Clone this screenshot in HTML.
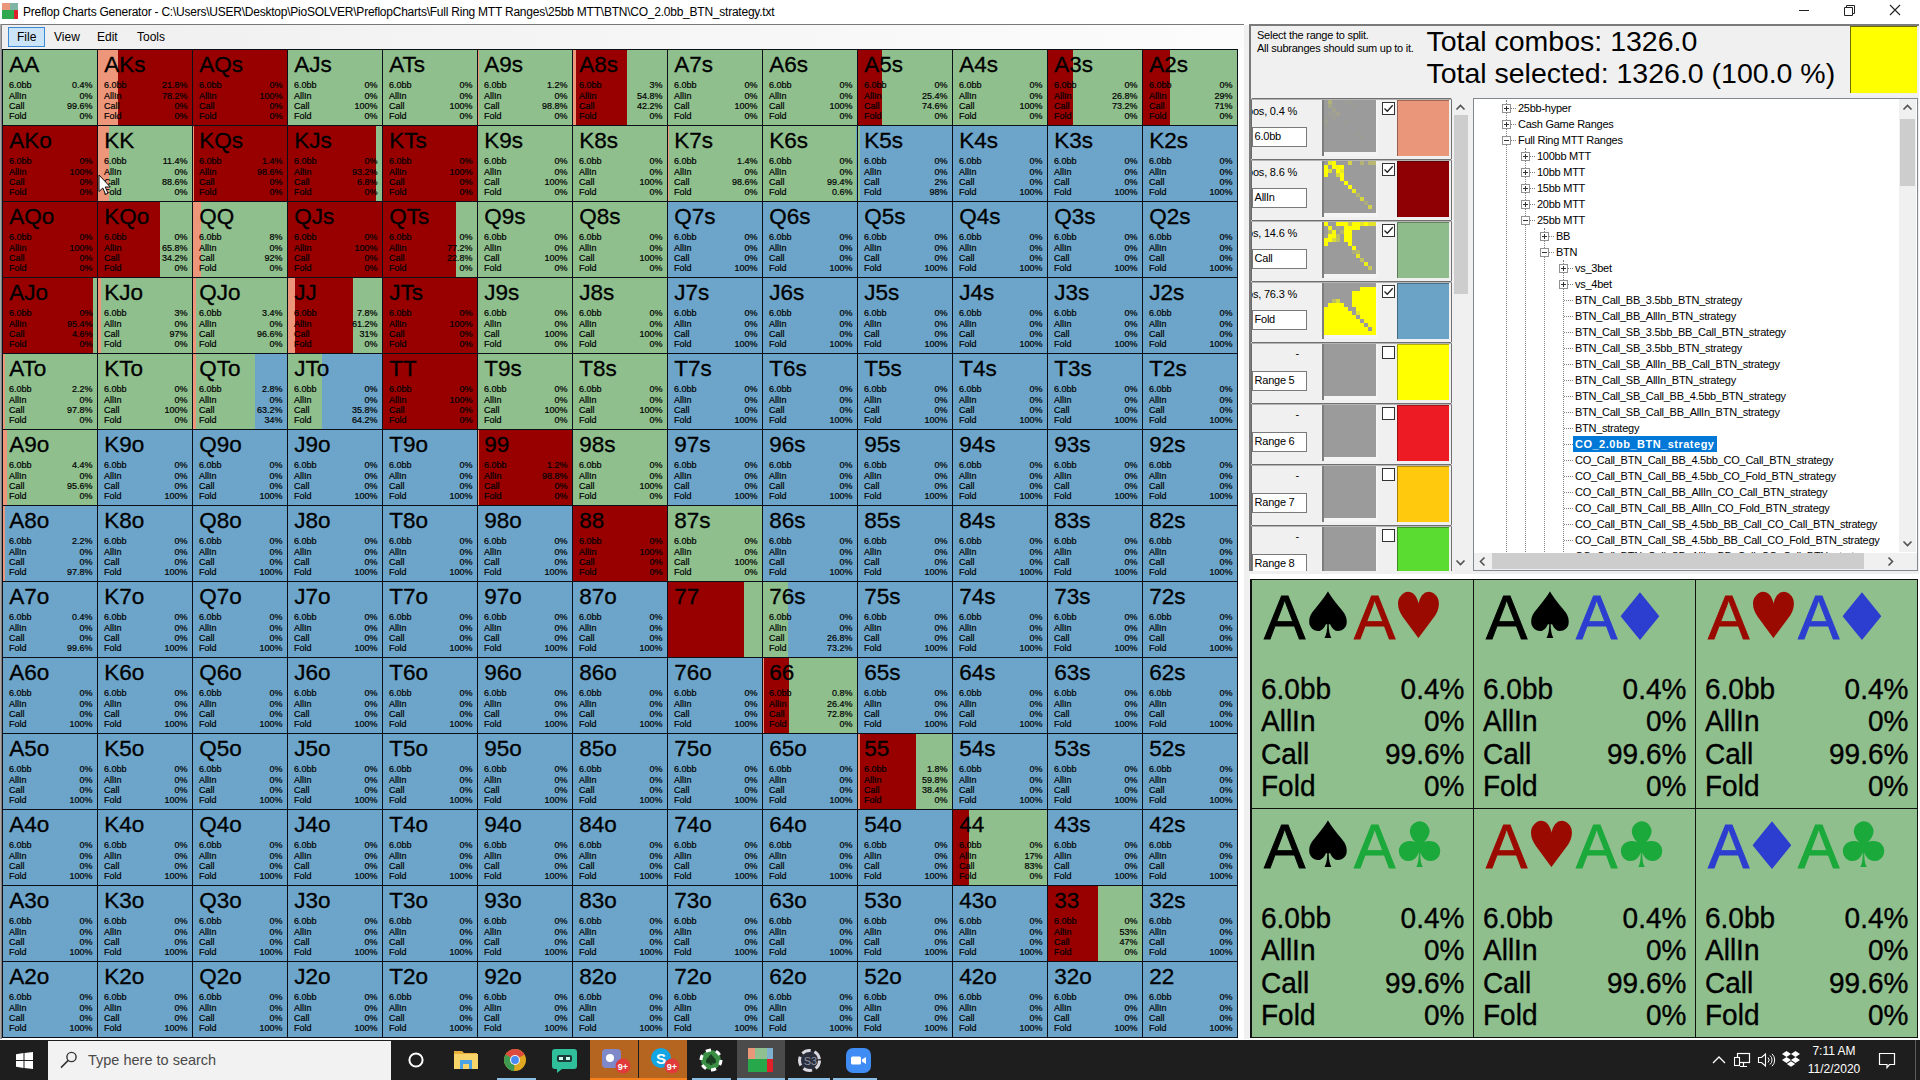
<!DOCTYPE html>
<html lang="en"><head><meta charset="utf-8"><title>Preflop Charts Generator</title>
<style>
html,body{margin:0;padding:0}
body{width:1920px;height:1080px;overflow:hidden;position:relative;background:#fff;font-family:"Liberation Sans",sans-serif;color:#000}
div,span,b,i,p{box-sizing:border-box}
.abs,.abs>*{position:absolute}
#title{position:absolute;left:0;top:0;width:1920px;height:24px;background:#fff}
#title .t{position:absolute;left:23px;top:5px;font-size:12px;line-height:15px;white-space:nowrap;color:#000;letter-spacing:-0.235px}
#menu{position:absolute;left:0;top:24px;width:1244px;height:25px;background:linear-gradient(90deg,#efefef,#fcfcfc);border-top:1px solid #787878}
#menu span{position:absolute;top:1px;height:23px;line-height:23px;font-size:12px}
#grid{position:absolute;left:2px;top:49px;width:1236px;height:989px;background:#0b0f18}
.c{position:absolute;width:94px;height:75px;overflow:hidden}
.c b{position:absolute;left:6.2px;top:3.1px;font-weight:normal;font-size:22.5px;line-height:24px;white-space:nowrap;-webkit-text-stroke:0.3px #000}
.c p{position:absolute;margin:0;top:30.4px;font-size:9px;line-height:10px;white-space:pre;color:#000;-webkit-text-stroke:0.2px #000}
.c u{display:block;height:11px;text-decoration:none}
.c .a{left:6px;text-align:left}
.c .v{right:4.5px;text-align:right}
</style></head><body>

<div id="title"><svg style="position:absolute;left:2px;top:3px" width="16" height="16" viewBox="0 0 16 16"><rect width="16" height="16" fill="#2fa84f"/><rect width="8" height="7" fill="#e9967a"/><rect x="8" width="8" height="7" fill="#7fb5a5"/><rect x="12" y="7" width="4" height="9" fill="#e0202a"/></svg>
<span class="t">Preflop Charts Generator - C:\Users\USER\Desktop\PioSOLVER\PreflopCharts\Full Ring MTT Ranges\25bb MTT\BTN\CO_2.0bb_BTN_strategy.txt</span>
</div>
<div id="menu"><span style="left:8px;width:37px;top:2px;height:20px;background:#cce4f7;border:1px solid #3a8ad6"></span><span style="left:17px">File</span><span style="left:54px">View</span><span style="left:97px">Edit</span><span style="left:137px">Tools</span></div>
<div id="grid">
<div class="c" style="left:1px;top:1px;background:linear-gradient(90deg,#ee967a 0% 0.4%,#8fbf8d 0.4% 100%)"><b>AA</b><p class="a"><u>6.0bb</u>AllIn
Call
Fold</p><p class="v"><u>0.4%</u>0%
99.6%
0%</p></div>
<div class="c" style="left:96px;top:1px;background:linear-gradient(90deg,#ee967a 0% 21.8%,#980000 21.8% 100%)"><b>AKs</b><p class="a"><u>6.0bb</u>AllIn
Call
Fold</p><p class="v"><u>21.8%</u>78.2%
0%
0%</p></div>
<div class="c" style="left:191px;top:1px;background:#980000"><b>AQs</b><p class="a"><u>6.0bb</u>AllIn
Call
Fold</p><p class="v"><u>0%</u>100%
0%
0%</p></div>
<div class="c" style="left:286px;top:1px;background:#8fbf8d"><b>AJs</b><p class="a"><u>6.0bb</u>AllIn
Call
Fold</p><p class="v"><u>0%</u>0%
100%
0%</p></div>
<div class="c" style="left:381px;top:1px;background:#8fbf8d"><b>ATs</b><p class="a"><u>6.0bb</u>AllIn
Call
Fold</p><p class="v"><u>0%</u>0%
100%
0%</p></div>
<div class="c" style="left:476px;top:1px;background:linear-gradient(90deg,#ee967a 0% 1.2%,#8fbf8d 1.2% 100%)"><b>A9s</b><p class="a"><u>6.0bb</u>AllIn
Call
Fold</p><p class="v"><u>1.2%</u>0%
98.8%
0%</p></div>
<div class="c" style="left:571px;top:1px;background:linear-gradient(90deg,#ee967a 0% 3%,#980000 3% 57.8%,#8fbf8d 57.8% 100%)"><b>A8s</b><p class="a"><u>6.0bb</u>AllIn
Call
Fold</p><p class="v"><u>3%</u>54.8%
42.2%
0%</p></div>
<div class="c" style="left:666px;top:1px;background:#8fbf8d"><b>A7s</b><p class="a"><u>6.0bb</u>AllIn
Call
Fold</p><p class="v"><u>0%</u>0%
100%
0%</p></div>
<div class="c" style="left:761px;top:1px;background:#8fbf8d"><b>A6s</b><p class="a"><u>6.0bb</u>AllIn
Call
Fold</p><p class="v"><u>0%</u>0%
100%
0%</p></div>
<div class="c" style="left:856px;top:1px;background:linear-gradient(90deg,#980000 0% 25.4%,#8fbf8d 25.4% 100%)"><b>A5s</b><p class="a"><u>6.0bb</u>AllIn
Call
Fold</p><p class="v"><u>0%</u>25.4%
74.6%
0%</p></div>
<div class="c" style="left:951px;top:1px;background:#8fbf8d"><b>A4s</b><p class="a"><u>6.0bb</u>AllIn
Call
Fold</p><p class="v"><u>0%</u>0%
100%
0%</p></div>
<div class="c" style="left:1046px;top:1px;background:linear-gradient(90deg,#980000 0% 26.8%,#8fbf8d 26.8% 100%)"><b>A3s</b><p class="a"><u>6.0bb</u>AllIn
Call
Fold</p><p class="v"><u>0%</u>26.8%
73.2%
0%</p></div>
<div class="c" style="left:1141px;top:1px;background:linear-gradient(90deg,#980000 0% 29%,#8fbf8d 29% 100%)"><b>A2s</b><p class="a"><u>6.0bb</u>AllIn
Call
Fold</p><p class="v"><u>0%</u>29%
71%
0%</p></div>
<div class="c" style="left:1px;top:77px;background:#980000"><b>AKo</b><p class="a"><u>6.0bb</u>AllIn
Call
Fold</p><p class="v"><u>0%</u>100%
0%
0%</p></div>
<div class="c" style="left:96px;top:77px;background:linear-gradient(90deg,#ee967a 0% 11.4%,#8fbf8d 11.4% 100%)"><b>KK</b><p class="a"><u>6.0bb</u>AllIn
Call
Fold</p><p class="v"><u>11.4%</u>0%
88.6%
0%</p></div>
<div class="c" style="left:191px;top:77px;background:linear-gradient(90deg,#ee967a 0% 1.4%,#980000 1.4% 100%)"><b>KQs</b><p class="a"><u>6.0bb</u>AllIn
Call
Fold</p><p class="v"><u>1.4%</u>98.6%
0%
0%</p></div>
<div class="c" style="left:286px;top:77px;background:linear-gradient(90deg,#980000 0% 93.2%,#8fbf8d 93.2% 100%)"><b>KJs</b><p class="a"><u>6.0bb</u>AllIn
Call
Fold</p><p class="v"><u>0%</u>93.2%
6.8%
0%</p></div>
<div class="c" style="left:381px;top:77px;background:#980000"><b>KTs</b><p class="a"><u>6.0bb</u>AllIn
Call
Fold</p><p class="v"><u>0%</u>100%
0%
0%</p></div>
<div class="c" style="left:476px;top:77px;background:#8fbf8d"><b>K9s</b><p class="a"><u>6.0bb</u>AllIn
Call
Fold</p><p class="v"><u>0%</u>0%
100%
0%</p></div>
<div class="c" style="left:571px;top:77px;background:#8fbf8d"><b>K8s</b><p class="a"><u>6.0bb</u>AllIn
Call
Fold</p><p class="v"><u>0%</u>0%
100%
0%</p></div>
<div class="c" style="left:666px;top:77px;background:linear-gradient(90deg,#ee967a 0% 1.4%,#8fbf8d 1.4% 100%)"><b>K7s</b><p class="a"><u>6.0bb</u>AllIn
Call
Fold</p><p class="v"><u>1.4%</u>0%
98.6%
0%</p></div>
<div class="c" style="left:761px;top:77px;background:linear-gradient(90deg,#8fbf8d 0% 99.4%,#6ca5c9 99.4% 100%)"><b>K6s</b><p class="a"><u>6.0bb</u>AllIn
Call
Fold</p><p class="v"><u>0%</u>0%
99.4%
0.6%</p></div>
<div class="c" style="left:856px;top:77px;background:linear-gradient(90deg,#8fbf8d 0% 2%,#6ca5c9 2% 100%)"><b>K5s</b><p class="a"><u>6.0bb</u>AllIn
Call
Fold</p><p class="v"><u>0%</u>0%
2%
98%</p></div>
<div class="c" style="left:951px;top:77px;background:#6ca5c9"><b>K4s</b><p class="a"><u>6.0bb</u>AllIn
Call
Fold</p><p class="v"><u>0%</u>0%
0%
100%</p></div>
<div class="c" style="left:1046px;top:77px;background:#6ca5c9"><b>K3s</b><p class="a"><u>6.0bb</u>AllIn
Call
Fold</p><p class="v"><u>0%</u>0%
0%
100%</p></div>
<div class="c" style="left:1141px;top:77px;background:#6ca5c9"><b>K2s</b><p class="a"><u>6.0bb</u>AllIn
Call
Fold</p><p class="v"><u>0%</u>0%
0%
100%</p></div>
<div class="c" style="left:1px;top:153px;background:#980000"><b>AQo</b><p class="a"><u>6.0bb</u>AllIn
Call
Fold</p><p class="v"><u>0%</u>100%
0%
0%</p></div>
<div class="c" style="left:96px;top:153px;background:linear-gradient(90deg,#980000 0% 65.8%,#8fbf8d 65.8% 100%)"><b>KQo</b><p class="a"><u>6.0bb</u>AllIn
Call
Fold</p><p class="v"><u>0%</u>65.8%
34.2%
0%</p></div>
<div class="c" style="left:191px;top:153px;background:linear-gradient(90deg,#ee967a 0% 8%,#8fbf8d 8% 100%)"><b>QQ</b><p class="a"><u>6.0bb</u>AllIn
Call
Fold</p><p class="v"><u>8%</u>0%
92%
0%</p></div>
<div class="c" style="left:286px;top:153px;background:#980000"><b>QJs</b><p class="a"><u>6.0bb</u>AllIn
Call
Fold</p><p class="v"><u>0%</u>100%
0%
0%</p></div>
<div class="c" style="left:381px;top:153px;background:linear-gradient(90deg,#980000 0% 77.2%,#8fbf8d 77.2% 100%)"><b>QTs</b><p class="a"><u>6.0bb</u>AllIn
Call
Fold</p><p class="v"><u>0%</u>77.2%
22.8%
0%</p></div>
<div class="c" style="left:476px;top:153px;background:#8fbf8d"><b>Q9s</b><p class="a"><u>6.0bb</u>AllIn
Call
Fold</p><p class="v"><u>0%</u>0%
100%
0%</p></div>
<div class="c" style="left:571px;top:153px;background:#8fbf8d"><b>Q8s</b><p class="a"><u>6.0bb</u>AllIn
Call
Fold</p><p class="v"><u>0%</u>0%
100%
0%</p></div>
<div class="c" style="left:666px;top:153px;background:#6ca5c9"><b>Q7s</b><p class="a"><u>6.0bb</u>AllIn
Call
Fold</p><p class="v"><u>0%</u>0%
0%
100%</p></div>
<div class="c" style="left:761px;top:153px;background:#6ca5c9"><b>Q6s</b><p class="a"><u>6.0bb</u>AllIn
Call
Fold</p><p class="v"><u>0%</u>0%
0%
100%</p></div>
<div class="c" style="left:856px;top:153px;background:#6ca5c9"><b>Q5s</b><p class="a"><u>6.0bb</u>AllIn
Call
Fold</p><p class="v"><u>0%</u>0%
0%
100%</p></div>
<div class="c" style="left:951px;top:153px;background:#6ca5c9"><b>Q4s</b><p class="a"><u>6.0bb</u>AllIn
Call
Fold</p><p class="v"><u>0%</u>0%
0%
100%</p></div>
<div class="c" style="left:1046px;top:153px;background:#6ca5c9"><b>Q3s</b><p class="a"><u>6.0bb</u>AllIn
Call
Fold</p><p class="v"><u>0%</u>0%
0%
100%</p></div>
<div class="c" style="left:1141px;top:153px;background:#6ca5c9"><b>Q2s</b><p class="a"><u>6.0bb</u>AllIn
Call
Fold</p><p class="v"><u>0%</u>0%
0%
100%</p></div>
<div class="c" style="left:1px;top:229px;background:linear-gradient(90deg,#980000 0% 95.4%,#8fbf8d 95.4% 100%)"><b>AJo</b><p class="a"><u>6.0bb</u>AllIn
Call
Fold</p><p class="v"><u>0%</u>95.4%
4.6%
0%</p></div>
<div class="c" style="left:96px;top:229px;background:linear-gradient(90deg,#ee967a 0% 3%,#8fbf8d 3% 100%)"><b>KJo</b><p class="a"><u>6.0bb</u>AllIn
Call
Fold</p><p class="v"><u>3%</u>0%
97%
0%</p></div>
<div class="c" style="left:191px;top:229px;background:linear-gradient(90deg,#ee967a 0% 3.4%,#8fbf8d 3.4% 100%)"><b>QJo</b><p class="a"><u>6.0bb</u>AllIn
Call
Fold</p><p class="v"><u>3.4%</u>0%
96.6%
0%</p></div>
<div class="c" style="left:286px;top:229px;background:linear-gradient(90deg,#ee967a 0% 7.8%,#980000 7.8% 69%,#8fbf8d 69% 100%)"><b>JJ</b><p class="a"><u>6.0bb</u>AllIn
Call
Fold</p><p class="v"><u>7.8%</u>61.2%
31%
0%</p></div>
<div class="c" style="left:381px;top:229px;background:#980000"><b>JTs</b><p class="a"><u>6.0bb</u>AllIn
Call
Fold</p><p class="v"><u>0%</u>100%
0%
0%</p></div>
<div class="c" style="left:476px;top:229px;background:#8fbf8d"><b>J9s</b><p class="a"><u>6.0bb</u>AllIn
Call
Fold</p><p class="v"><u>0%</u>0%
100%
0%</p></div>
<div class="c" style="left:571px;top:229px;background:#8fbf8d"><b>J8s</b><p class="a"><u>6.0bb</u>AllIn
Call
Fold</p><p class="v"><u>0%</u>0%
100%
0%</p></div>
<div class="c" style="left:666px;top:229px;background:#6ca5c9"><b>J7s</b><p class="a"><u>6.0bb</u>AllIn
Call
Fold</p><p class="v"><u>0%</u>0%
0%
100%</p></div>
<div class="c" style="left:761px;top:229px;background:#6ca5c9"><b>J6s</b><p class="a"><u>6.0bb</u>AllIn
Call
Fold</p><p class="v"><u>0%</u>0%
0%
100%</p></div>
<div class="c" style="left:856px;top:229px;background:#6ca5c9"><b>J5s</b><p class="a"><u>6.0bb</u>AllIn
Call
Fold</p><p class="v"><u>0%</u>0%
0%
100%</p></div>
<div class="c" style="left:951px;top:229px;background:#6ca5c9"><b>J4s</b><p class="a"><u>6.0bb</u>AllIn
Call
Fold</p><p class="v"><u>0%</u>0%
0%
100%</p></div>
<div class="c" style="left:1046px;top:229px;background:#6ca5c9"><b>J3s</b><p class="a"><u>6.0bb</u>AllIn
Call
Fold</p><p class="v"><u>0%</u>0%
0%
100%</p></div>
<div class="c" style="left:1141px;top:229px;background:#6ca5c9"><b>J2s</b><p class="a"><u>6.0bb</u>AllIn
Call
Fold</p><p class="v"><u>0%</u>0%
0%
100%</p></div>
<div class="c" style="left:1px;top:305px;background:linear-gradient(90deg,#ee967a 0% 2.2%,#8fbf8d 2.2% 100%)"><b>ATo</b><p class="a"><u>6.0bb</u>AllIn
Call
Fold</p><p class="v"><u>2.2%</u>0%
97.8%
0%</p></div>
<div class="c" style="left:96px;top:305px;background:#8fbf8d"><b>KTo</b><p class="a"><u>6.0bb</u>AllIn
Call
Fold</p><p class="v"><u>0%</u>0%
100%
0%</p></div>
<div class="c" style="left:191px;top:305px;background:linear-gradient(90deg,#ee967a 0% 2.8%,#8fbf8d 2.8% 66%,#6ca5c9 66% 100%)"><b>QTo</b><p class="a"><u>6.0bb</u>AllIn
Call
Fold</p><p class="v"><u>2.8%</u>0%
63.2%
34%</p></div>
<div class="c" style="left:286px;top:305px;background:linear-gradient(90deg,#8fbf8d 0% 35.8%,#6ca5c9 35.8% 100%)"><b>JTo</b><p class="a"><u>6.0bb</u>AllIn
Call
Fold</p><p class="v"><u>0%</u>0%
35.8%
64.2%</p></div>
<div class="c" style="left:381px;top:305px;background:#980000"><b>TT</b><p class="a"><u>6.0bb</u>AllIn
Call
Fold</p><p class="v"><u>0%</u>100%
0%
0%</p></div>
<div class="c" style="left:476px;top:305px;background:#8fbf8d"><b>T9s</b><p class="a"><u>6.0bb</u>AllIn
Call
Fold</p><p class="v"><u>0%</u>0%
100%
0%</p></div>
<div class="c" style="left:571px;top:305px;background:#8fbf8d"><b>T8s</b><p class="a"><u>6.0bb</u>AllIn
Call
Fold</p><p class="v"><u>0%</u>0%
100%
0%</p></div>
<div class="c" style="left:666px;top:305px;background:#6ca5c9"><b>T7s</b><p class="a"><u>6.0bb</u>AllIn
Call
Fold</p><p class="v"><u>0%</u>0%
0%
100%</p></div>
<div class="c" style="left:761px;top:305px;background:#6ca5c9"><b>T6s</b><p class="a"><u>6.0bb</u>AllIn
Call
Fold</p><p class="v"><u>0%</u>0%
0%
100%</p></div>
<div class="c" style="left:856px;top:305px;background:#6ca5c9"><b>T5s</b><p class="a"><u>6.0bb</u>AllIn
Call
Fold</p><p class="v"><u>0%</u>0%
0%
100%</p></div>
<div class="c" style="left:951px;top:305px;background:#6ca5c9"><b>T4s</b><p class="a"><u>6.0bb</u>AllIn
Call
Fold</p><p class="v"><u>0%</u>0%
0%
100%</p></div>
<div class="c" style="left:1046px;top:305px;background:#6ca5c9"><b>T3s</b><p class="a"><u>6.0bb</u>AllIn
Call
Fold</p><p class="v"><u>0%</u>0%
0%
100%</p></div>
<div class="c" style="left:1141px;top:305px;background:#6ca5c9"><b>T2s</b><p class="a"><u>6.0bb</u>AllIn
Call
Fold</p><p class="v"><u>0%</u>0%
0%
100%</p></div>
<div class="c" style="left:1px;top:381px;background:linear-gradient(90deg,#ee967a 0% 4.4%,#8fbf8d 4.4% 100%)"><b>A9o</b><p class="a"><u>6.0bb</u>AllIn
Call
Fold</p><p class="v"><u>4.4%</u>0%
95.6%
0%</p></div>
<div class="c" style="left:96px;top:381px;background:#6ca5c9"><b>K9o</b><p class="a"><u>6.0bb</u>AllIn
Call
Fold</p><p class="v"><u>0%</u>0%
0%
100%</p></div>
<div class="c" style="left:191px;top:381px;background:#6ca5c9"><b>Q9o</b><p class="a"><u>6.0bb</u>AllIn
Call
Fold</p><p class="v"><u>0%</u>0%
0%
100%</p></div>
<div class="c" style="left:286px;top:381px;background:#6ca5c9"><b>J9o</b><p class="a"><u>6.0bb</u>AllIn
Call
Fold</p><p class="v"><u>0%</u>0%
0%
100%</p></div>
<div class="c" style="left:381px;top:381px;background:#6ca5c9"><b>T9o</b><p class="a"><u>6.0bb</u>AllIn
Call
Fold</p><p class="v"><u>0%</u>0%
0%
100%</p></div>
<div class="c" style="left:476px;top:381px;background:linear-gradient(90deg,#ee967a 0% 1.2%,#980000 1.2% 100%)"><b>99</b><p class="a"><u>6.0bb</u>AllIn
Call
Fold</p><p class="v"><u>1.2%</u>98.8%
0%
0%</p></div>
<div class="c" style="left:571px;top:381px;background:#8fbf8d"><b>98s</b><p class="a"><u>6.0bb</u>AllIn
Call
Fold</p><p class="v"><u>0%</u>0%
100%
0%</p></div>
<div class="c" style="left:666px;top:381px;background:#6ca5c9"><b>97s</b><p class="a"><u>6.0bb</u>AllIn
Call
Fold</p><p class="v"><u>0%</u>0%
0%
100%</p></div>
<div class="c" style="left:761px;top:381px;background:#6ca5c9"><b>96s</b><p class="a"><u>6.0bb</u>AllIn
Call
Fold</p><p class="v"><u>0%</u>0%
0%
100%</p></div>
<div class="c" style="left:856px;top:381px;background:#6ca5c9"><b>95s</b><p class="a"><u>6.0bb</u>AllIn
Call
Fold</p><p class="v"><u>0%</u>0%
0%
100%</p></div>
<div class="c" style="left:951px;top:381px;background:#6ca5c9"><b>94s</b><p class="a"><u>6.0bb</u>AllIn
Call
Fold</p><p class="v"><u>0%</u>0%
0%
100%</p></div>
<div class="c" style="left:1046px;top:381px;background:#6ca5c9"><b>93s</b><p class="a"><u>6.0bb</u>AllIn
Call
Fold</p><p class="v"><u>0%</u>0%
0%
100%</p></div>
<div class="c" style="left:1141px;top:381px;background:#6ca5c9"><b>92s</b><p class="a"><u>6.0bb</u>AllIn
Call
Fold</p><p class="v"><u>0%</u>0%
0%
100%</p></div>
<div class="c" style="left:1px;top:457px;background:linear-gradient(90deg,#ee967a 0% 2.2%,#6ca5c9 2.2% 100%)"><b>A8o</b><p class="a"><u>6.0bb</u>AllIn
Call
Fold</p><p class="v"><u>2.2%</u>0%
0%
97.8%</p></div>
<div class="c" style="left:96px;top:457px;background:#6ca5c9"><b>K8o</b><p class="a"><u>6.0bb</u>AllIn
Call
Fold</p><p class="v"><u>0%</u>0%
0%
100%</p></div>
<div class="c" style="left:191px;top:457px;background:#6ca5c9"><b>Q8o</b><p class="a"><u>6.0bb</u>AllIn
Call
Fold</p><p class="v"><u>0%</u>0%
0%
100%</p></div>
<div class="c" style="left:286px;top:457px;background:#6ca5c9"><b>J8o</b><p class="a"><u>6.0bb</u>AllIn
Call
Fold</p><p class="v"><u>0%</u>0%
0%
100%</p></div>
<div class="c" style="left:381px;top:457px;background:#6ca5c9"><b>T8o</b><p class="a"><u>6.0bb</u>AllIn
Call
Fold</p><p class="v"><u>0%</u>0%
0%
100%</p></div>
<div class="c" style="left:476px;top:457px;background:#6ca5c9"><b>98o</b><p class="a"><u>6.0bb</u>AllIn
Call
Fold</p><p class="v"><u>0%</u>0%
0%
100%</p></div>
<div class="c" style="left:571px;top:457px;background:#980000"><b>88</b><p class="a"><u>6.0bb</u>AllIn
Call
Fold</p><p class="v"><u>0%</u>100%
0%
0%</p></div>
<div class="c" style="left:666px;top:457px;background:#8fbf8d"><b>87s</b><p class="a"><u>6.0bb</u>AllIn
Call
Fold</p><p class="v"><u>0%</u>0%
100%
0%</p></div>
<div class="c" style="left:761px;top:457px;background:#6ca5c9"><b>86s</b><p class="a"><u>6.0bb</u>AllIn
Call
Fold</p><p class="v"><u>0%</u>0%
0%
100%</p></div>
<div class="c" style="left:856px;top:457px;background:#6ca5c9"><b>85s</b><p class="a"><u>6.0bb</u>AllIn
Call
Fold</p><p class="v"><u>0%</u>0%
0%
100%</p></div>
<div class="c" style="left:951px;top:457px;background:#6ca5c9"><b>84s</b><p class="a"><u>6.0bb</u>AllIn
Call
Fold</p><p class="v"><u>0%</u>0%
0%
100%</p></div>
<div class="c" style="left:1046px;top:457px;background:#6ca5c9"><b>83s</b><p class="a"><u>6.0bb</u>AllIn
Call
Fold</p><p class="v"><u>0%</u>0%
0%
100%</p></div>
<div class="c" style="left:1141px;top:457px;background:#6ca5c9"><b>82s</b><p class="a"><u>6.0bb</u>AllIn
Call
Fold</p><p class="v"><u>0%</u>0%
0%
100%</p></div>
<div class="c" style="left:1px;top:533px;background:linear-gradient(90deg,#ee967a 0% 0.4%,#6ca5c9 0.4% 100%)"><b>A7o</b><p class="a"><u>6.0bb</u>AllIn
Call
Fold</p><p class="v"><u>0.4%</u>0%
0%
99.6%</p></div>
<div class="c" style="left:96px;top:533px;background:#6ca5c9"><b>K7o</b><p class="a"><u>6.0bb</u>AllIn
Call
Fold</p><p class="v"><u>0%</u>0%
0%
100%</p></div>
<div class="c" style="left:191px;top:533px;background:#6ca5c9"><b>Q7o</b><p class="a"><u>6.0bb</u>AllIn
Call
Fold</p><p class="v"><u>0%</u>0%
0%
100%</p></div>
<div class="c" style="left:286px;top:533px;background:#6ca5c9"><b>J7o</b><p class="a"><u>6.0bb</u>AllIn
Call
Fold</p><p class="v"><u>0%</u>0%
0%
100%</p></div>
<div class="c" style="left:381px;top:533px;background:#6ca5c9"><b>T7o</b><p class="a"><u>6.0bb</u>AllIn
Call
Fold</p><p class="v"><u>0%</u>0%
0%
100%</p></div>
<div class="c" style="left:476px;top:533px;background:#6ca5c9"><b>97o</b><p class="a"><u>6.0bb</u>AllIn
Call
Fold</p><p class="v"><u>0%</u>0%
0%
100%</p></div>
<div class="c" style="left:571px;top:533px;background:#6ca5c9"><b>87o</b><p class="a"><u>6.0bb</u>AllIn
Call
Fold</p><p class="v"><u>0%</u>0%
0%
100%</p></div>
<div class="c" style="left:666px;top:533px;background:linear-gradient(90deg,#980000 0% 81%,#8fbf8d 81% 100%)"><b>77</b></div>
<div class="c" style="left:761px;top:533px;background:linear-gradient(90deg,#8fbf8d 0% 26.8%,#6ca5c9 26.8% 100%)"><b>76s</b><p class="a"><u>6.0bb</u>AllIn
Call
Fold</p><p class="v"><u>0%</u>0%
26.8%
73.2%</p></div>
<div class="c" style="left:856px;top:533px;background:#6ca5c9"><b>75s</b><p class="a"><u>6.0bb</u>AllIn
Call
Fold</p><p class="v"><u>0%</u>0%
0%
100%</p></div>
<div class="c" style="left:951px;top:533px;background:#6ca5c9"><b>74s</b><p class="a"><u>6.0bb</u>AllIn
Call
Fold</p><p class="v"><u>0%</u>0%
0%
100%</p></div>
<div class="c" style="left:1046px;top:533px;background:#6ca5c9"><b>73s</b><p class="a"><u>6.0bb</u>AllIn
Call
Fold</p><p class="v"><u>0%</u>0%
0%
100%</p></div>
<div class="c" style="left:1141px;top:533px;background:#6ca5c9"><b>72s</b><p class="a"><u>6.0bb</u>AllIn
Call
Fold</p><p class="v"><u>0%</u>0%
0%
100%</p></div>
<div class="c" style="left:1px;top:609px;background:#6ca5c9"><b>A6o</b><p class="a"><u>6.0bb</u>AllIn
Call
Fold</p><p class="v"><u>0%</u>0%
0%
100%</p></div>
<div class="c" style="left:96px;top:609px;background:#6ca5c9"><b>K6o</b><p class="a"><u>6.0bb</u>AllIn
Call
Fold</p><p class="v"><u>0%</u>0%
0%
100%</p></div>
<div class="c" style="left:191px;top:609px;background:#6ca5c9"><b>Q6o</b><p class="a"><u>6.0bb</u>AllIn
Call
Fold</p><p class="v"><u>0%</u>0%
0%
100%</p></div>
<div class="c" style="left:286px;top:609px;background:#6ca5c9"><b>J6o</b><p class="a"><u>6.0bb</u>AllIn
Call
Fold</p><p class="v"><u>0%</u>0%
0%
100%</p></div>
<div class="c" style="left:381px;top:609px;background:#6ca5c9"><b>T6o</b><p class="a"><u>6.0bb</u>AllIn
Call
Fold</p><p class="v"><u>0%</u>0%
0%
100%</p></div>
<div class="c" style="left:476px;top:609px;background:#6ca5c9"><b>96o</b><p class="a"><u>6.0bb</u>AllIn
Call
Fold</p><p class="v"><u>0%</u>0%
0%
100%</p></div>
<div class="c" style="left:571px;top:609px;background:#6ca5c9"><b>86o</b><p class="a"><u>6.0bb</u>AllIn
Call
Fold</p><p class="v"><u>0%</u>0%
0%
100%</p></div>
<div class="c" style="left:666px;top:609px;background:#6ca5c9"><b>76o</b><p class="a"><u>6.0bb</u>AllIn
Call
Fold</p><p class="v"><u>0%</u>0%
0%
100%</p></div>
<div class="c" style="left:761px;top:609px;background:linear-gradient(90deg,#ee967a 0% 0.8%,#980000 0.8% 27.2%,#8fbf8d 27.2% 100%)"><b>66</b><p class="a"><u>6.0bb</u>AllIn
Call
Fold</p><p class="v"><u>0.8%</u>26.4%
72.8%
0%</p></div>
<div class="c" style="left:856px;top:609px;background:#6ca5c9"><b>65s</b><p class="a"><u>6.0bb</u>AllIn
Call
Fold</p><p class="v"><u>0%</u>0%
0%
100%</p></div>
<div class="c" style="left:951px;top:609px;background:#6ca5c9"><b>64s</b><p class="a"><u>6.0bb</u>AllIn
Call
Fold</p><p class="v"><u>0%</u>0%
0%
100%</p></div>
<div class="c" style="left:1046px;top:609px;background:#6ca5c9"><b>63s</b><p class="a"><u>6.0bb</u>AllIn
Call
Fold</p><p class="v"><u>0%</u>0%
0%
100%</p></div>
<div class="c" style="left:1141px;top:609px;background:#6ca5c9"><b>62s</b><p class="a"><u>6.0bb</u>AllIn
Call
Fold</p><p class="v"><u>0%</u>0%
0%
100%</p></div>
<div class="c" style="left:1px;top:685px;background:#6ca5c9"><b>A5o</b><p class="a"><u>6.0bb</u>AllIn
Call
Fold</p><p class="v"><u>0%</u>0%
0%
100%</p></div>
<div class="c" style="left:96px;top:685px;background:#6ca5c9"><b>K5o</b><p class="a"><u>6.0bb</u>AllIn
Call
Fold</p><p class="v"><u>0%</u>0%
0%
100%</p></div>
<div class="c" style="left:191px;top:685px;background:#6ca5c9"><b>Q5o</b><p class="a"><u>6.0bb</u>AllIn
Call
Fold</p><p class="v"><u>0%</u>0%
0%
100%</p></div>
<div class="c" style="left:286px;top:685px;background:#6ca5c9"><b>J5o</b><p class="a"><u>6.0bb</u>AllIn
Call
Fold</p><p class="v"><u>0%</u>0%
0%
100%</p></div>
<div class="c" style="left:381px;top:685px;background:#6ca5c9"><b>T5o</b><p class="a"><u>6.0bb</u>AllIn
Call
Fold</p><p class="v"><u>0%</u>0%
0%
100%</p></div>
<div class="c" style="left:476px;top:685px;background:#6ca5c9"><b>95o</b><p class="a"><u>6.0bb</u>AllIn
Call
Fold</p><p class="v"><u>0%</u>0%
0%
100%</p></div>
<div class="c" style="left:571px;top:685px;background:#6ca5c9"><b>85o</b><p class="a"><u>6.0bb</u>AllIn
Call
Fold</p><p class="v"><u>0%</u>0%
0%
100%</p></div>
<div class="c" style="left:666px;top:685px;background:#6ca5c9"><b>75o</b><p class="a"><u>6.0bb</u>AllIn
Call
Fold</p><p class="v"><u>0%</u>0%
0%
100%</p></div>
<div class="c" style="left:761px;top:685px;background:#6ca5c9"><b>65o</b><p class="a"><u>6.0bb</u>AllIn
Call
Fold</p><p class="v"><u>0%</u>0%
0%
100%</p></div>
<div class="c" style="left:856px;top:685px;background:linear-gradient(90deg,#ee967a 0% 1.8%,#980000 1.8% 61.6%,#8fbf8d 61.6% 100%)"><b>55</b><p class="a"><u>6.0bb</u>AllIn
Call
Fold</p><p class="v"><u>1.8%</u>59.8%
38.4%
0%</p></div>
<div class="c" style="left:951px;top:685px;background:#6ca5c9"><b>54s</b><p class="a"><u>6.0bb</u>AllIn
Call
Fold</p><p class="v"><u>0%</u>0%
0%
100%</p></div>
<div class="c" style="left:1046px;top:685px;background:#6ca5c9"><b>53s</b><p class="a"><u>6.0bb</u>AllIn
Call
Fold</p><p class="v"><u>0%</u>0%
0%
100%</p></div>
<div class="c" style="left:1141px;top:685px;background:#6ca5c9"><b>52s</b><p class="a"><u>6.0bb</u>AllIn
Call
Fold</p><p class="v"><u>0%</u>0%
0%
100%</p></div>
<div class="c" style="left:1px;top:761px;background:#6ca5c9"><b>A4o</b><p class="a"><u>6.0bb</u>AllIn
Call
Fold</p><p class="v"><u>0%</u>0%
0%
100%</p></div>
<div class="c" style="left:96px;top:761px;background:#6ca5c9"><b>K4o</b><p class="a"><u>6.0bb</u>AllIn
Call
Fold</p><p class="v"><u>0%</u>0%
0%
100%</p></div>
<div class="c" style="left:191px;top:761px;background:#6ca5c9"><b>Q4o</b><p class="a"><u>6.0bb</u>AllIn
Call
Fold</p><p class="v"><u>0%</u>0%
0%
100%</p></div>
<div class="c" style="left:286px;top:761px;background:#6ca5c9"><b>J4o</b><p class="a"><u>6.0bb</u>AllIn
Call
Fold</p><p class="v"><u>0%</u>0%
0%
100%</p></div>
<div class="c" style="left:381px;top:761px;background:#6ca5c9"><b>T4o</b><p class="a"><u>6.0bb</u>AllIn
Call
Fold</p><p class="v"><u>0%</u>0%
0%
100%</p></div>
<div class="c" style="left:476px;top:761px;background:#6ca5c9"><b>94o</b><p class="a"><u>6.0bb</u>AllIn
Call
Fold</p><p class="v"><u>0%</u>0%
0%
100%</p></div>
<div class="c" style="left:571px;top:761px;background:#6ca5c9"><b>84o</b><p class="a"><u>6.0bb</u>AllIn
Call
Fold</p><p class="v"><u>0%</u>0%
0%
100%</p></div>
<div class="c" style="left:666px;top:761px;background:#6ca5c9"><b>74o</b><p class="a"><u>6.0bb</u>AllIn
Call
Fold</p><p class="v"><u>0%</u>0%
0%
100%</p></div>
<div class="c" style="left:761px;top:761px;background:#6ca5c9"><b>64o</b><p class="a"><u>6.0bb</u>AllIn
Call
Fold</p><p class="v"><u>0%</u>0%
0%
100%</p></div>
<div class="c" style="left:856px;top:761px;background:#6ca5c9"><b>54o</b><p class="a"><u>6.0bb</u>AllIn
Call
Fold</p><p class="v"><u>0%</u>0%
0%
100%</p></div>
<div class="c" style="left:951px;top:761px;background:linear-gradient(90deg,#980000 0% 17%,#8fbf8d 17% 100%)"><b>44</b><p class="a"><u>6.0bb</u>AllIn
Call
Fold</p><p class="v"><u>0%</u>17%
83%
0%</p></div>
<div class="c" style="left:1046px;top:761px;background:#6ca5c9"><b>43s</b><p class="a"><u>6.0bb</u>AllIn
Call
Fold</p><p class="v"><u>0%</u>0%
0%
100%</p></div>
<div class="c" style="left:1141px;top:761px;background:#6ca5c9"><b>42s</b><p class="a"><u>6.0bb</u>AllIn
Call
Fold</p><p class="v"><u>0%</u>0%
0%
100%</p></div>
<div class="c" style="left:1px;top:837px;background:#6ca5c9"><b>A3o</b><p class="a"><u>6.0bb</u>AllIn
Call
Fold</p><p class="v"><u>0%</u>0%
0%
100%</p></div>
<div class="c" style="left:96px;top:837px;background:#6ca5c9"><b>K3o</b><p class="a"><u>6.0bb</u>AllIn
Call
Fold</p><p class="v"><u>0%</u>0%
0%
100%</p></div>
<div class="c" style="left:191px;top:837px;background:#6ca5c9"><b>Q3o</b><p class="a"><u>6.0bb</u>AllIn
Call
Fold</p><p class="v"><u>0%</u>0%
0%
100%</p></div>
<div class="c" style="left:286px;top:837px;background:#6ca5c9"><b>J3o</b><p class="a"><u>6.0bb</u>AllIn
Call
Fold</p><p class="v"><u>0%</u>0%
0%
100%</p></div>
<div class="c" style="left:381px;top:837px;background:#6ca5c9"><b>T3o</b><p class="a"><u>6.0bb</u>AllIn
Call
Fold</p><p class="v"><u>0%</u>0%
0%
100%</p></div>
<div class="c" style="left:476px;top:837px;background:#6ca5c9"><b>93o</b><p class="a"><u>6.0bb</u>AllIn
Call
Fold</p><p class="v"><u>0%</u>0%
0%
100%</p></div>
<div class="c" style="left:571px;top:837px;background:#6ca5c9"><b>83o</b><p class="a"><u>6.0bb</u>AllIn
Call
Fold</p><p class="v"><u>0%</u>0%
0%
100%</p></div>
<div class="c" style="left:666px;top:837px;background:#6ca5c9"><b>73o</b><p class="a"><u>6.0bb</u>AllIn
Call
Fold</p><p class="v"><u>0%</u>0%
0%
100%</p></div>
<div class="c" style="left:761px;top:837px;background:#6ca5c9"><b>63o</b><p class="a"><u>6.0bb</u>AllIn
Call
Fold</p><p class="v"><u>0%</u>0%
0%
100%</p></div>
<div class="c" style="left:856px;top:837px;background:#6ca5c9"><b>53o</b><p class="a"><u>6.0bb</u>AllIn
Call
Fold</p><p class="v"><u>0%</u>0%
0%
100%</p></div>
<div class="c" style="left:951px;top:837px;background:#6ca5c9"><b>43o</b><p class="a"><u>6.0bb</u>AllIn
Call
Fold</p><p class="v"><u>0%</u>0%
0%
100%</p></div>
<div class="c" style="left:1046px;top:837px;background:linear-gradient(90deg,#980000 0% 53%,#8fbf8d 53% 100%)"><b>33</b><p class="a"><u>6.0bb</u>AllIn
Call
Fold</p><p class="v"><u>0%</u>53%
47%
0%</p></div>
<div class="c" style="left:1141px;top:837px;background:#6ca5c9"><b>32s</b><p class="a"><u>6.0bb</u>AllIn
Call
Fold</p><p class="v"><u>0%</u>0%
0%
100%</p></div>
<div class="c" style="left:1px;top:913px;background:#6ca5c9"><b>A2o</b><p class="a"><u>6.0bb</u>AllIn
Call
Fold</p><p class="v"><u>0%</u>0%
0%
100%</p></div>
<div class="c" style="left:96px;top:913px;background:#6ca5c9"><b>K2o</b><p class="a"><u>6.0bb</u>AllIn
Call
Fold</p><p class="v"><u>0%</u>0%
0%
100%</p></div>
<div class="c" style="left:191px;top:913px;background:#6ca5c9"><b>Q2o</b><p class="a"><u>6.0bb</u>AllIn
Call
Fold</p><p class="v"><u>0%</u>0%
0%
100%</p></div>
<div class="c" style="left:286px;top:913px;background:#6ca5c9"><b>J2o</b><p class="a"><u>6.0bb</u>AllIn
Call
Fold</p><p class="v"><u>0%</u>0%
0%
100%</p></div>
<div class="c" style="left:381px;top:913px;background:#6ca5c9"><b>T2o</b><p class="a"><u>6.0bb</u>AllIn
Call
Fold</p><p class="v"><u>0%</u>0%
0%
100%</p></div>
<div class="c" style="left:476px;top:913px;background:#6ca5c9"><b>92o</b><p class="a"><u>6.0bb</u>AllIn
Call
Fold</p><p class="v"><u>0%</u>0%
0%
100%</p></div>
<div class="c" style="left:571px;top:913px;background:#6ca5c9"><b>82o</b><p class="a"><u>6.0bb</u>AllIn
Call
Fold</p><p class="v"><u>0%</u>0%
0%
100%</p></div>
<div class="c" style="left:666px;top:913px;background:#6ca5c9"><b>72o</b><p class="a"><u>6.0bb</u>AllIn
Call
Fold</p><p class="v"><u>0%</u>0%
0%
100%</p></div>
<div class="c" style="left:761px;top:913px;background:#6ca5c9"><b>62o</b><p class="a"><u>6.0bb</u>AllIn
Call
Fold</p><p class="v"><u>0%</u>0%
0%
100%</p></div>
<div class="c" style="left:856px;top:913px;background:#6ca5c9"><b>52o</b><p class="a"><u>6.0bb</u>AllIn
Call
Fold</p><p class="v"><u>0%</u>0%
0%
100%</p></div>
<div class="c" style="left:951px;top:913px;background:#6ca5c9"><b>42o</b><p class="a"><u>6.0bb</u>AllIn
Call
Fold</p><p class="v"><u>0%</u>0%
0%
100%</p></div>
<div class="c" style="left:1046px;top:913px;background:#6ca5c9"><b>32o</b><p class="a"><u>6.0bb</u>AllIn
Call
Fold</p><p class="v"><u>0%</u>0%
0%
100%</p></div>
<div class="c" style="left:1141px;top:913px;background:#6ca5c9"><b>22</b><p class="a"><u>6.0bb</u>AllIn
Call
Fold</p><p class="v"><u>0%</u>0%
0%
100%</p></div>
</div>
<svg style="position:absolute;left:98px;top:174px" width="14" height="22" viewBox="0 0 14 22"><path d="M1 1 L1 17.5 L4.8 14 L7.6 20.3 L10 19.2 L7.2 13 L12.3 13 Z" fill="#fff" stroke="#111" stroke-width="1"/></svg>
<div style="position:absolute;left:0;top:24px;width:2px;height:1015px;background:#808080;border-left:1px solid #a8a8a8"></div>
<div style="position:absolute;left:1244px;top:25px;width:6px;height:1014px;background:#f0f0f0"></div>
<style>
#rp{position:absolute;left:1249px;top:24px;width:670px;height:547px;background:#f0f0f0;border-left:2px solid #7a7a7a;border-top:2px solid #7a7a7a}
#rp *{position:absolute}
.hd{font-size:11px;line-height:13px;white-space:nowrap;left:6px;letter-spacing:-0.25px}
.tot{font-size:28.5px;line-height:32px;white-space:nowrap;left:175.4px}
.it{left:0;width:201px;height:61px;border-top:2px solid transparent;border-left:1px solid #6b6b6b;border-right:1px solid #707070;background:linear-gradient(#707070 0 1px,#b4b4b4 1px 2px,#f0f0f0 2px);background-origin:border-box;overflow:hidden}
.it .lb{right:154px;top:4px;font-size:11px;line-height:14px;white-space:nowrap;letter-spacing:-0.2px}
.it .in{left:0px;top:26.7px;width:55px;height:20px;background:#fff;border:1px solid #7a7a7a;font-size:11px;line-height:17.4px;padding-left:1.6px;white-space:nowrap;letter-spacing:-0.25px}
.it .mg{left:70px;top:0px;width:56px;height:56px;background:#f4f4f4;border-left:2px solid #7d7d7d}
.it .mg svg{left:0;top:0}
.it .cb{left:130px;top:1.7px;width:13px;height:13px;background:#fff;border:1px solid #333}
.it .sw{left:145.3px;top:0px;width:52px;height:56px;border-left:1px solid rgba(0,0,0,.35);border-top:1px solid rgba(0,0,0,.3)}
.sb{background:#f0f0f0}
.th{background:#cdcdcd}
#tree{left:222px;top:72px;width:445px;height:473px;background:#fff;border:1px solid #828790;overflow:hidden}
.ti{font-size:11px;line-height:16px;height:16px;white-space:nowrap;letter-spacing:-0.26px}
.bx{width:9px;height:9px;border:1px solid #919191;background:#fff}
.bx:before{content:"";position:absolute;left:1px;top:3px;width:5px;height:1px;background:#333}
.bx.p:after{content:"";position:absolute;left:3px;top:1px;width:1px;height:5px;background:#333}
.vd{width:0;border-left:1px dotted #808080}
.hdl{height:0;border-top:1px dotted #808080}
</style>
<div id="rp">
<span class="hd" style="top:2.6px">Select the range to split.</span><span class="hd" style="top:15.5px">All subranges should sum up to it.</span>
<span class="tot" style="top:-1px">Total combos: 1326.0</span><span class="tot" style="top:31px">Total selected: 1326.0 (100.0 %)</span>
<div style="left:599px;top:0px;width:67px;height:67px;background:#ffff00;border-left:1px solid #6d6d00;border-top:1px solid #6d6d00"></div>
<div style="left:0;top:72px;width:202px;height:473px;overflow:hidden">
<div class="it" style="top:0px">
<span class="lb">5.3 combos, 0.4 %</span>
<span class="in">6.0bb</span>
<div class="mg"><svg width="52" height="52" viewBox="0 0 52 52" shape-rendering="crispEdges"><rect width="52" height="52" fill="#9b9b9b"/><g fill="#ffff00"><rect x="0" y="0" width="4" height="4" fill-opacity="0.00"/><rect x="4" y="0" width="4" height="4" fill-opacity="0.22"/><rect x="20" y="0" width="4" height="4" fill-opacity="0.01"/><rect x="24" y="0" width="4" height="4" fill-opacity="0.03"/><rect x="4" y="4" width="4" height="4" fill-opacity="0.11"/><rect x="8" y="4" width="4" height="4" fill-opacity="0.01"/><rect x="28" y="4" width="4" height="4" fill-opacity="0.01"/><rect x="8" y="8" width="4" height="4" fill-opacity="0.08"/><rect x="4" y="12" width="4" height="4" fill-opacity="0.03"/><rect x="8" y="12" width="4" height="4" fill-opacity="0.03"/><rect x="12" y="12" width="4" height="4" fill-opacity="0.08"/><rect x="0" y="16" width="4" height="4" fill-opacity="0.02"/><rect x="8" y="16" width="4" height="4" fill-opacity="0.03"/><rect x="0" y="20" width="4" height="4" fill-opacity="0.04"/><rect x="20" y="20" width="4" height="4" fill-opacity="0.01"/><rect x="0" y="24" width="4" height="4" fill-opacity="0.02"/><rect x="0" y="28" width="4" height="4" fill-opacity="0.00"/><rect x="32" y="32" width="4" height="4" fill-opacity="0.01"/><rect x="36" y="36" width="4" height="4" fill-opacity="0.02"/></g></svg></div>
<div class="cb"><svg width="11" height="11" viewBox="0 0 11 11" style="left:0;top:0"><path d="M1.5 5.5 L4.3 8.3 L9.7 2.3" fill="none" stroke="#222" stroke-width="1.3"/></svg></div>
<div class="sw" style="background:#e9967a"></div>
</div>
<div class="it" style="top:61px">
<span class="lb">114.0 combos, 8.6 %</span>
<span class="in">AllIn</span>
<div class="mg"><svg width="52" height="52" viewBox="0 0 52 52" shape-rendering="crispEdges"><rect width="52" height="52" fill="#9b9b9b"/><g fill="#ffff00"><rect x="4" y="0" width="4" height="4" fill-opacity="0.78"/><rect x="8" y="0" width="4" height="4"/><rect x="24" y="0" width="4" height="4" fill-opacity="0.55"/><rect x="36" y="0" width="4" height="4" fill-opacity="0.25"/><rect x="44" y="0" width="4" height="4" fill-opacity="0.27"/><rect x="48" y="0" width="4" height="4" fill-opacity="0.29"/><rect x="0" y="4" width="4" height="4"/><rect x="8" y="4" width="4" height="4" fill-opacity="0.99"/><rect x="12" y="4" width="4" height="4" fill-opacity="0.93"/><rect x="16" y="4" width="4" height="4"/><rect x="0" y="8" width="4" height="4"/><rect x="4" y="8" width="4" height="4" fill-opacity="0.66"/><rect x="12" y="8" width="4" height="4"/><rect x="16" y="8" width="4" height="4" fill-opacity="0.77"/><rect x="0" y="12" width="4" height="4" fill-opacity="0.95"/><rect x="12" y="12" width="4" height="4" fill-opacity="0.61"/><rect x="16" y="12" width="4" height="4"/><rect x="16" y="16" width="4" height="4"/><rect x="20" y="20" width="4" height="4" fill-opacity="0.99"/><rect x="24" y="24" width="4" height="4"/><rect x="28" y="28" width="4" height="4" fill-opacity="0.81"/><rect x="32" y="32" width="4" height="4" fill-opacity="0.26"/><rect x="36" y="36" width="4" height="4" fill-opacity="0.60"/><rect x="40" y="40" width="4" height="4" fill-opacity="0.17"/><rect x="44" y="44" width="4" height="4" fill-opacity="0.53"/></g></svg></div>
<div class="cb"><svg width="11" height="11" viewBox="0 0 11 11" style="left:0;top:0"><path d="M1.5 5.5 L4.3 8.3 L9.7 2.3" fill="none" stroke="#222" stroke-width="1.3"/></svg></div>
<div class="sw" style="background:#8e0004"></div>
</div>
<div class="it" style="top:122px">
<span class="lb">193.6 combos, 14.6 %</span>
<span class="in">Call</span>
<div class="mg"><svg width="52" height="52" viewBox="0 0 52 52" shape-rendering="crispEdges"><rect width="52" height="52" fill="#9b9b9b"/><g fill="#ffff00"><rect x="0" y="0" width="4" height="4" fill-opacity="1.00"/><rect x="12" y="0" width="8" height="4"/><rect x="20" y="0" width="4" height="4" fill-opacity="0.99"/><rect x="24" y="0" width="4" height="4" fill-opacity="0.42"/><rect x="28" y="0" width="8" height="4"/><rect x="36" y="0" width="4" height="4" fill-opacity="0.75"/><rect x="40" y="0" width="4" height="4"/><rect x="44" y="0" width="4" height="4" fill-opacity="0.73"/><rect x="48" y="0" width="4" height="4" fill-opacity="0.71"/><rect x="4" y="4" width="4" height="4" fill-opacity="0.89"/><rect x="12" y="4" width="4" height="4" fill-opacity="0.07"/><rect x="20" y="4" width="8" height="4"/><rect x="28" y="4" width="4" height="4" fill-opacity="0.99"/><rect x="32" y="4" width="4" height="4" fill-opacity="0.99"/><rect x="36" y="4" width="4" height="4" fill-opacity="0.02"/><rect x="4" y="8" width="4" height="4" fill-opacity="0.34"/><rect x="8" y="8" width="4" height="4" fill-opacity="0.92"/><rect x="16" y="8" width="4" height="4" fill-opacity="0.23"/><rect x="20" y="8" width="8" height="4"/><rect x="0" y="12" width="4" height="4" fill-opacity="0.05"/><rect x="4" y="12" width="4" height="4" fill-opacity="0.97"/><rect x="8" y="12" width="4" height="4" fill-opacity="0.97"/><rect x="12" y="12" width="4" height="4" fill-opacity="0.31"/><rect x="20" y="12" width="8" height="4"/><rect x="0" y="16" width="4" height="4" fill-opacity="0.98"/><rect x="4" y="16" width="4" height="4"/><rect x="8" y="16" width="4" height="4" fill-opacity="0.63"/><rect x="12" y="16" width="4" height="4" fill-opacity="0.36"/><rect x="20" y="16" width="8" height="4"/><rect x="0" y="20" width="4" height="4" fill-opacity="0.96"/><rect x="24" y="20" width="4" height="4"/><rect x="28" y="24" width="4" height="4"/><rect x="28" y="28" width="4" height="4" fill-opacity="0.19"/><rect x="32" y="28" width="4" height="4" fill-opacity="0.27"/><rect x="32" y="32" width="4" height="4" fill-opacity="0.73"/><rect x="36" y="36" width="4" height="4" fill-opacity="0.38"/><rect x="40" y="40" width="4" height="4" fill-opacity="0.83"/><rect x="44" y="44" width="4" height="4" fill-opacity="0.47"/></g></svg></div>
<div class="cb"><svg width="11" height="11" viewBox="0 0 11 11" style="left:0;top:0"><path d="M1.5 5.5 L4.3 8.3 L9.7 2.3" fill="none" stroke="#222" stroke-width="1.3"/></svg></div>
<div class="sw" style="background:#8fbc8b"></div>
</div>
<div class="it" style="top:183px">
<span class="lb">1011.7 combos, 76.3 %</span>
<span class="in">Fold</span>
<div class="mg"><svg width="52" height="52" viewBox="0 0 52 52" shape-rendering="crispEdges"><rect width="52" height="52" fill="#9b9b9b"/><g fill="#ffff00"><rect x="32" y="4" width="4" height="4" fill-opacity="0.01"/><rect x="36" y="4" width="4" height="4" fill-opacity="0.98"/><rect x="40" y="4" width="12" height="4"/><rect x="28" y="8" width="24" height="4"/><rect x="28" y="12" width="24" height="4"/><rect x="8" y="16" width="4" height="4" fill-opacity="0.34"/><rect x="12" y="16" width="4" height="4" fill-opacity="0.64"/><rect x="28" y="16" width="24" height="4"/><rect x="4" y="20" width="16" height="4"/><rect x="28" y="20" width="24" height="4"/><rect x="0" y="24" width="4" height="4" fill-opacity="0.98"/><rect x="4" y="24" width="20" height="4"/><rect x="32" y="24" width="20" height="4"/><rect x="0" y="28" width="4" height="4" fill-opacity="1.00"/><rect x="4" y="28" width="24" height="4"/><rect x="32" y="28" width="4" height="4" fill-opacity="0.73"/><rect x="36" y="28" width="16" height="4"/><rect x="0" y="32" width="32" height="4"/><rect x="36" y="32" width="16" height="4"/><rect x="0" y="36" width="36" height="4"/><rect x="40" y="36" width="12" height="4"/><rect x="0" y="40" width="40" height="4"/><rect x="44" y="40" width="8" height="4"/><rect x="0" y="44" width="44" height="4"/><rect x="48" y="44" width="4" height="4"/><rect x="0" y="48" width="52" height="4"/></g></svg></div>
<div class="cb"><svg width="11" height="11" viewBox="0 0 11 11" style="left:0;top:0"><path d="M1.5 5.5 L4.3 8.3 L9.7 2.3" fill="none" stroke="#222" stroke-width="1.3"/></svg></div>
<div class="sw" style="background:#6ba3c6"></div>
</div>
<div class="it" style="top:244px">
<span class="lb" style="right:152px;top:1.5px">-</span>
<span class="in">Range 5</span>
<div class="mg"><svg width="52" height="52"><rect width="52" height="52" fill="#9b9b9b"/></svg></div>
<div class="cb"></div>
<div class="sw" style="background:#ffff00"></div>
</div>
<div class="it" style="top:305px">
<span class="lb" style="right:152px;top:1.5px">-</span>
<span class="in">Range 6</span>
<div class="mg"><svg width="52" height="52"><rect width="52" height="52" fill="#9b9b9b"/></svg></div>
<div class="cb"></div>
<div class="sw" style="background:#ed1c24"></div>
</div>
<div class="it" style="top:366px">
<span class="lb" style="right:152px;top:1.5px">-</span>
<span class="in">Range 7</span>
<div class="mg"><svg width="52" height="52"><rect width="52" height="52" fill="#9b9b9b"/></svg></div>
<div class="cb"></div>
<div class="sw" style="background:#ffc90e"></div>
</div>
<div class="it" style="top:427px">
<span class="lb" style="right:152px;top:1.5px">-</span>
<span class="in">Range 8</span>
<div class="mg"><svg width="52" height="52"><rect width="52" height="52" fill="#9b9b9b"/></svg></div>
<div class="cb"></div>
<div class="sw" style="background:#5bdc30"></div>
</div>
</div>
<div class="sb" style="left:202px;top:72px;width:17px;height:473px"></div>
<svg style="left:201px;top:73px" width="17" height="17" viewBox="0 0 17 17"><path d="M4.5 10.5 L8.5 6.5 L12.5 10.5" fill="none" stroke="#505050" stroke-width="1.6"/></svg>
<div class="th" style="left:202.5px;top:89px;width:14.5px;height:179px"></div>
<svg style="left:201px;top:528px" width="17" height="17" viewBox="0 0 17 17"><path d="M4.5 6.5 L8.5 10.5 L12.5 6.5" fill="none" stroke="#505050" stroke-width="1.6"/></svg>
<div id="tree">
<div class="vd" style="left:32px;top:1px;height:452px"></div>
<div class="vd" style="left:51px;top:49px;height:404px"></div>
<div class="vd" style="left:70px;top:129px;height:324px"></div>
<div class="vd" style="left:89px;top:161px;height:292px"></div>
<div class="hdl" style="left:37px;top:9px;width:5px"></div>
<div class="bx p" style="left:28px;top:5px"></div>
<span class="ti" style="left:44px;top:1px">25bb-hyper</span>
<div class="hdl" style="left:37px;top:25px;width:5px"></div>
<div class="bx p" style="left:28px;top:21px"></div>
<span class="ti" style="left:44px;top:17px">Cash Game Ranges</span>
<div class="hdl" style="left:37px;top:41px;width:5px"></div>
<div class="bx " style="left:28px;top:37px"></div>
<span class="ti" style="left:44px;top:33px">Full Ring MTT Ranges</span>
<div class="hdl" style="left:56px;top:57px;width:5px"></div>
<div class="bx p" style="left:47px;top:53px"></div>
<span class="ti" style="left:63px;top:49px">100bb MTT</span>
<div class="hdl" style="left:56px;top:73px;width:5px"></div>
<div class="bx p" style="left:47px;top:69px"></div>
<span class="ti" style="left:63px;top:65px">10bb MTT</span>
<div class="hdl" style="left:56px;top:89px;width:5px"></div>
<div class="bx p" style="left:47px;top:85px"></div>
<span class="ti" style="left:63px;top:81px">15bb MTT</span>
<div class="hdl" style="left:56px;top:105px;width:5px"></div>
<div class="bx p" style="left:47px;top:101px"></div>
<span class="ti" style="left:63px;top:97px">20bb MTT</span>
<div class="hdl" style="left:56px;top:121px;width:5px"></div>
<div class="bx " style="left:47px;top:117px"></div>
<span class="ti" style="left:63px;top:113px">25bb MTT</span>
<div class="hdl" style="left:75px;top:137px;width:5px"></div>
<div class="bx p" style="left:66px;top:133px"></div>
<span class="ti" style="left:82px;top:129px">BB</span>
<div class="hdl" style="left:75px;top:153px;width:5px"></div>
<div class="bx " style="left:66px;top:149px"></div>
<span class="ti" style="left:82px;top:145px">BTN</span>
<div class="hdl" style="left:94px;top:169px;width:5px"></div>
<div class="bx p" style="left:85px;top:165px"></div>
<span class="ti" style="left:101px;top:161px">vs_3bet</span>
<div class="hdl" style="left:94px;top:185px;width:5px"></div>
<div class="bx p" style="left:85px;top:181px"></div>
<span class="ti" style="left:101px;top:177px">vs_4bet</span>
<div class="hdl" style="left:90px;top:201px;width:9px"></div>
<span class="ti" style="left:101px;top:193px">BTN_Call_BB_3.5bb_BTN_strategy</span>
<div class="hdl" style="left:90px;top:217px;width:9px"></div>
<span class="ti" style="left:101px;top:209px">BTN_Call_BB_AllIn_BTN_strategy</span>
<div class="hdl" style="left:90px;top:233px;width:9px"></div>
<span class="ti" style="left:101px;top:225px">BTN_Call_SB_3.5bb_BB_Call_BTN_strategy</span>
<div class="hdl" style="left:90px;top:249px;width:9px"></div>
<span class="ti" style="left:101px;top:241px">BTN_Call_SB_3.5bb_BTN_strategy</span>
<div class="hdl" style="left:90px;top:265px;width:9px"></div>
<span class="ti" style="left:101px;top:257px">BTN_Call_SB_AllIn_BB_Call_BTN_strategy</span>
<div class="hdl" style="left:90px;top:281px;width:9px"></div>
<span class="ti" style="left:101px;top:273px">BTN_Call_SB_AllIn_BTN_strategy</span>
<div class="hdl" style="left:90px;top:297px;width:9px"></div>
<span class="ti" style="left:101px;top:289px">BTN_Call_SB_Call_BB_4.5bb_BTN_strategy</span>
<div class="hdl" style="left:90px;top:313px;width:9px"></div>
<span class="ti" style="left:101px;top:305px">BTN_Call_SB_Call_BB_AllIn_BTN_strategy</span>
<div class="hdl" style="left:90px;top:329px;width:9px"></div>
<span class="ti" style="left:101px;top:321px">BTN_strategy</span>
<div class="hdl" style="left:90px;top:345px;width:9px"></div>
<span class="ti" style="left:99px;top:337px;background:#0078d7;color:#fff;padding:0 2px;font-weight:bold;letter-spacing:0.5px">CO_2.0bb_BTN_strategy</span>
<div class="hdl" style="left:90px;top:361px;width:9px"></div>
<span class="ti" style="left:101px;top:353px">CO_Call_BTN_Call_BB_4.5bb_CO_Call_BTN_strategy</span>
<div class="hdl" style="left:90px;top:377px;width:9px"></div>
<span class="ti" style="left:101px;top:369px">CO_Call_BTN_Call_BB_4.5bb_CO_Fold_BTN_strategy</span>
<div class="hdl" style="left:90px;top:393px;width:9px"></div>
<span class="ti" style="left:101px;top:385px">CO_Call_BTN_Call_BB_AllIn_CO_Call_BTN_strategy</span>
<div class="hdl" style="left:90px;top:409px;width:9px"></div>
<span class="ti" style="left:101px;top:401px">CO_Call_BTN_Call_BB_AllIn_CO_Fold_BTN_strategy</span>
<div class="hdl" style="left:90px;top:425px;width:9px"></div>
<span class="ti" style="left:101px;top:417px">CO_Call_BTN_Call_SB_4.5bb_BB_Call_CO_Call_BTN_strategy</span>
<div class="hdl" style="left:90px;top:441px;width:9px"></div>
<span class="ti" style="left:101px;top:433px">CO_Call_BTN_Call_SB_4.5bb_BB_Call_CO_Fold_BTN_strategy</span>
<div class="hdl" style="left:90px;top:457px;width:9px"></div>
<span class="ti" style="left:101px;top:449px">CO_Call_BTN_Call_SB_AllIn_BB_Call_CO_Call_BTN_strategy</span>
<div class="sb" style="left:425px;top:0;width:17px;height:453px"></div>
<svg style="left:425px;top:0" width="17" height="17" viewBox="0 0 17 17"><path d="M4.5 10.5 L8.5 6.5 L12.5 10.5" fill="none" stroke="#505050" stroke-width="1.6"/></svg>
<div class="th" style="left:426px;top:20px;width:15px;height:67px"></div>
<svg style="left:425px;top:436px" width="17" height="17" viewBox="0 0 17 17"><path d="M4.5 6.5 L8.5 10.5 L12.5 6.5" fill="none" stroke="#505050" stroke-width="1.6"/></svg>
<div class="sb" style="left:0;top:454px;width:443px;height:18px"></div>
<svg style="left:0;top:454px" width="17" height="17" viewBox="0 0 17 17"><path d="M10.5 4.5 L6.5 8.5 L10.5 12.5" fill="none" stroke="#505050" stroke-width="1.6"/></svg>
<div class="th" style="left:18px;top:454px;width:372px;height:16px"></div>
<svg style="left:408px;top:454px" width="17" height="17" viewBox="0 0 17 17"><path d="M6.5 4.5 L10.5 8.5 L6.5 12.5" fill="none" stroke="#505050" stroke-width="1.6"/></svg>
</div>
</div>
<svg style="position:absolute;left:1780px;top:0" width="140" height="24" viewBox="0 0 140 24"><path d="M19 10.5H29" stroke="#222" stroke-width="1"/><path d="M64.5 7.5h8v8h-8z M66.5 7.5v-2h8v8h-2" fill="none" stroke="#222" stroke-width="1"/><path d="M110 5L120 15M120 5L110 15" stroke="#222" stroke-width="1.1"/></svg>
<style>
#cp{position:absolute;left:1250px;top:579px;width:668px;height:459px;background:#101010}
#cp .k{position:absolute;width:221px;height:228px;background:#8fbf8d;overflow:hidden}
#cp .k *{position:absolute;white-space:nowrap}
.A{font-size:62px;line-height:70px;transform:scaleY(1.028);transform-origin:0 55.6px;-webkit-text-stroke:0.9px currentColor}
.su{font-family:"DejaVu Sans",sans-serif;transform-origin:0 0}
.cs{font-size:28px;line-height:31.27px;white-space:pre !important;top:92.6px;margin:0;transform:scaleY(1.036);transform-origin:0 0;-webkit-text-stroke:0.35px #000}
</style>
<div style="position:absolute;left:1250px;top:571px;width:669px;height:8px;background:linear-gradient(#f0f0f0 0 3px,#fff 3px)"></div>
<div id="cp">
<div class="k" style="left:2px;top:1px">
<span class="A" style="left:12.0px;top:3.1px;color:#000">A</span>
<span class="su" style="left:46.5px;top:-2.1px;font-size:63.8px;line-height:76.5px;color:#000;transform:scaleX(1.014)">♠</span>
<span class="A" style="left:101.9px;top:3.1px;color:#9a0a00">A</span>
<span class="su" style="left:141.4px;top:-1.6px;font-size:63.4px;line-height:76.1px;color:#9a0a00;transform:scaleX(0.898)">♥</span>
<p class="cs" style="left:9px">6.0bb
AllIn
Call
Fold</p><p class="cs" style="right:8.6px;text-align:right">0.4%
0%
99.6%
0%</p>
</div>
<div class="k" style="left:224px;top:1px">
<span class="A" style="left:12.0px;top:3.1px;color:#000">A</span>
<span class="su" style="left:46.5px;top:-2.1px;font-size:63.8px;line-height:76.5px;color:#000;transform:scaleX(1.014)">♠</span>
<span class="A" style="left:101.9px;top:3.1px;color:#2c3ed0">A</span>
<span class="su" style="left:135.2px;top:-2.5px;font-size:65.4px;line-height:78.4px;color:#2c3ed0;transform:scaleX(1.057)">♦</span>
<p class="cs" style="left:9px">6.0bb
AllIn
Call
Fold</p><p class="cs" style="right:8.6px;text-align:right">0.4%
0%
99.6%
0%</p>
</div>
<div class="k" style="left:446px;top:1px">
<span class="A" style="left:12.0px;top:3.1px;color:#9a0a00">A</span>
<span class="su" style="left:51.5px;top:-1.6px;font-size:63.4px;line-height:76.1px;color:#9a0a00;transform:scaleX(0.898)">♥</span>
<span class="A" style="left:101.9px;top:3.1px;color:#2c3ed0">A</span>
<span class="su" style="left:135.2px;top:-2.5px;font-size:65.4px;line-height:78.4px;color:#2c3ed0;transform:scaleX(1.057)">♦</span>
<p class="cs" style="left:9px">6.0bb
AllIn
Call
Fold</p><p class="cs" style="right:8.6px;text-align:right">0.4%
0%
99.6%
0%</p>
</div>
<div class="k" style="left:2px;top:230px">
<span class="A" style="left:12.0px;top:3.1px;color:#000">A</span>
<span class="su" style="left:46.5px;top:-2.1px;font-size:63.8px;line-height:76.5px;color:#000;transform:scaleX(1.014)">♠</span>
<span class="A" style="left:101.9px;top:3.1px;color:#1aa93a">A</span>
<span class="su" style="left:139.9px;top:-1.3px;font-size:62.7px;line-height:75.3px;color:#1aa93a;transform:scaleX(0.980)">♣</span>
<p class="cs" style="left:9px">6.0bb
AllIn
Call
Fold</p><p class="cs" style="right:8.6px;text-align:right">0.4%
0%
99.6%
0%</p>
</div>
<div class="k" style="left:224px;top:230px">
<span class="A" style="left:12.0px;top:3.1px;color:#9a0a00">A</span>
<span class="su" style="left:51.5px;top:-1.6px;font-size:63.4px;line-height:76.1px;color:#9a0a00;transform:scaleX(0.898)">♥</span>
<span class="A" style="left:101.9px;top:3.1px;color:#1aa93a">A</span>
<span class="su" style="left:139.9px;top:-1.3px;font-size:62.7px;line-height:75.3px;color:#1aa93a;transform:scaleX(0.980)">♣</span>
<p class="cs" style="left:9px">6.0bb
AllIn
Call
Fold</p><p class="cs" style="right:8.6px;text-align:right">0.4%
0%
99.6%
0%</p>
</div>
<div class="k" style="left:446px;top:230px">
<span class="A" style="left:12.0px;top:3.1px;color:#2c3ed0">A</span>
<span class="su" style="left:45.3px;top:-2.5px;font-size:65.4px;line-height:78.4px;color:#2c3ed0;transform:scaleX(1.057)">♦</span>
<span class="A" style="left:101.9px;top:3.1px;color:#1aa93a">A</span>
<span class="su" style="left:139.9px;top:-1.3px;font-size:62.7px;line-height:75.3px;color:#1aa93a;transform:scaleX(0.980)">♣</span>
<p class="cs" style="left:9px">6.0bb
AllIn
Call
Fold</p><p class="cs" style="right:8.6px;text-align:right">0.4%
0%
99.6%
0%</p>
</div>
</div>
<style>
#tb{position:absolute;left:0;top:1039.5px;width:1920px;height:41px;background:#1f1e1e}
#tb>*{position:absolute}
#tb .ul{top:38px;height:2px;background:#8cbfe6}
</style>
<div id="tb">
<svg style="left:16px;top:12px" width="17" height="17" viewBox="0 0 17 17"><path fill="#fff" d="M0 2.2 L7.5 1.1V8H0z M8.5 1 L17 0V8H8.5z M0 9H7.5V15.9L0 14.8z M8.5 9H17V17L8.5 16z"/></svg>
<div style="left:48px;top:1px;width:343px;height:39px;background:#f2f2f2"></div>
<svg style="left:58px;top:9px" width="22" height="22" viewBox="0 0 22 22"><circle cx="13.5" cy="8" r="4.6" fill="none" stroke="#333" stroke-width="1.4"/><path d="M10.2 11.4 L3 18.6" stroke="#333" stroke-width="1.5"/></svg>
<span style="left:88px;top:11px;font-size:14.5px;line-height:18px;color:#4a4a4a;white-space:nowrap">Type here to search</span>
<svg style="left:406px;top:10px" width="20" height="20"><circle cx="10" cy="10" r="6.6" fill="none" stroke="#fff" stroke-width="2"/></svg>
<svg style="left:453px;top:8px" width="26" height="24" viewBox="0 0 26 24"><path d="M1 3h8l2 2h13v4H1z" fill="#e8b13a"/><path d="M1 6h24v15H1z" fill="#f8d56a"/><path d="M7 12h12v9H7z" fill="#4aa3e6"/><path d="M10 16h6v5h-6z" fill="#f8d56a"/></svg>
<svg style="left:503px;top:8px" width="24" height="24" viewBox="0 0 24 24"><circle cx="12" cy="12" r="11" fill="#e0a820"/><path d="M12 12 L2.5 6.5 A11 11 0 0 1 21.5 6.5 Z" fill="#dd4b3e"/><path d="M12 12 L2.5 6.5 A11 11 0 0 0 11 23 Z" fill="#3d9a50"/><circle cx="12" cy="12" r="5" fill="#f4f4f4"/><circle cx="12" cy="12" r="3.9" fill="#4a8af4"/></svg>
<svg style="left:552px;top:9px" width="25" height="24" viewBox="0 0 25 24"><path d="M3 0h19a3 3 0 0 1 3 3v14a3 3 0 0 1-3 3H10l-5 4v-4H3a3 3 0 0 1-3-3V3a3 3 0 0 1 3-3z" fill="#2fbf9b"/><rect x="5" y="6" width="15" height="7" rx="2" fill="#1d3b3a"/><rect x="7" y="8" width="4" height="3" fill="#cfe"/><rect x="14" y="8" width="4" height="3" fill="#cfe"/></svg>
<div style="left:590px;top:0;width:48px;height:40px;background:#b5651f"></div><div style="left:639px;top:0;width:48px;height:40px;background:#b5651f"></div>
<div style="left:590px;top:38px;width:97px;height:2px;background:#f7801a"></div>
<svg style="left:602px;top:7px" width="30" height="28" viewBox="0 0 30 28"><rect x="0" y="2" width="19" height="19" rx="4" fill="#7f88c9"/><circle cx="8" cy="11" r="4" fill="#fff"/><circle cx="21" cy="19" r="7.5" fill="#e03a3a"/><text x="21" y="22.5" font-family="Liberation Sans,sans-serif" font-size="9" font-weight="bold" fill="#fff" text-anchor="middle">9+</text></svg>
<svg style="left:651px;top:7px" width="30" height="28" viewBox="0 0 30 28"><circle cx="10" cy="11" r="10" fill="#14a5e4"/><text x="10" y="16.5" font-family="Liberation Sans,sans-serif" font-size="15" font-weight="bold" fill="#fff" text-anchor="middle">S</text><circle cx="21" cy="19" r="7.5" fill="#e03a3a"/><text x="21" y="22.5" font-family="Liberation Sans,sans-serif" font-size="9" font-weight="bold" fill="#fff" text-anchor="middle">9+</text></svg>
<svg style="left:699px;top:8px" width="24" height="24" viewBox="0 0 24 24"><circle cx="12" cy="12" r="10" fill="#3a8f45" stroke="#fff" stroke-width="3" stroke-dasharray="5.2 5.2"/><circle cx="12" cy="12" r="7.5" fill="#3a8f45"/><path d="M12 6 C9 10 7 11 7 13.5 a2.3 2.3 0 0 0 4.3 1 L10.5 17h3l-.8-2.5 a2.3 2.3 0 0 0 4.3-1 C17 11 15 10 12 6z" fill="#183d1f"/></svg>
<div style="left:737px;top:0;width:48px;height:40px;background:#4b4b4b"></div>
<svg style="left:748px;top:8px" width="25" height="24" viewBox="0 0 25 24"><rect width="25" height="24" fill="#27a84a"/><rect width="7" height="11" fill="#e9967a"/><rect x="7" width="12" height="11" fill="#90c090"/><rect x="19" width="6" height="11" fill="#7fb0d0"/><rect x="19" y="11" width="6" height="13" fill="#e0202a"/></svg>
<svg style="left:797px;top:8px" width="25" height="25" viewBox="0 0 25 25"><circle cx="12.5" cy="12.5" r="10" fill="#2a2d3a" stroke="#d8d8e0" stroke-width="3" stroke-dasharray="9 4"/><text x="13.5" y="17" font-family="Liberation Sans,sans-serif" font-size="11" fill="#8d92a8" text-anchor="middle">S3</text></svg>
<svg style="left:846px;top:8px" width="25" height="25" viewBox="0 0 25 25"><rect width="25" height="25" rx="7" fill="#3f8cf5"/><rect x="5" y="8.5" width="10" height="8" rx="1.5" fill="#fff"/><path d="M16 11.5l4-2.5v7l-4-2.5z" fill="#fff"/></svg>
<div class="ul" style="left:497px;width:39px"></div>
<div class="ul" style="left:692px;width:39px"></div>
<div class="ul" style="left:737px;width:48px"></div>
<div class="ul" style="left:788px;width:42px"></div>
<div class="ul" style="left:833px;width:44px"></div>
<svg style="left:1711px;top:15px" width="16" height="10" viewBox="0 0 16 10"><path d="M2 8 L8 2 L14 8" fill="none" stroke="#fff" stroke-width="1.3"/></svg>
<svg style="left:1734px;top:11px" width="18" height="18" viewBox="0 0 18 18"><rect x="3.5" y="2.5" width="12" height="9" fill="none" stroke="#fff" stroke-width="1.2"/><path d="M6 15.5h7M9.5 11.5v4" stroke="#fff" stroke-width="1.2"/><rect x="0.5" y="6.5" width="5" height="8" fill="#1e1e1e" stroke="#fff" stroke-width="1.1"/></svg>
<svg style="left:1757px;top:11px" width="19" height="18" viewBox="0 0 19 18"><path d="M1.5 6.5h3l4-3.5v12l-4-3.5h-3z" fill="none" stroke="#fff" stroke-width="1.1"/><path d="M11 6.5a3.5 3.5 0 0 1 0 5M13 4.5a6 6 0 0 1 0 9M15 2.8a8.5 8.5 0 0 1 0 12.4" fill="none" stroke="#fff" stroke-width="1"/></svg>
<svg style="left:1782px;top:11px" width="18" height="17" viewBox="0 0 18 17"><path fill="#fff" d="M4.5 0 L9 3 L4.5 6 L0 3z M13.5 0 L18 3 L13.5 6 L9 3z M4.5 6 L9 9 L4.5 12 L0 9z M13.5 6 L18 9 L13.5 12 L9 9z M9 10.2 L13.2 13 L9 15.8 L4.8 13z"/></svg>
<span style="left:1800px;top:4px;width:68px;text-align:center;font-size:12px;line-height:15px;color:#fff;white-space:nowrap">7:11 AM</span>
<span style="left:1800px;top:22px;width:68px;text-align:center;font-size:12px;line-height:15px;color:#fff;white-space:nowrap">11/2/2020</span>
<svg style="left:1878px;top:12px" width="18" height="18" viewBox="0 0 18 18"><path d="M1.5 1.5h15v11h-5l-2.500 3 v-3h-7.5z" fill="none" stroke="#fff" stroke-width="1.2"/></svg>
<div style="left:1915px;top:0;width:1px;height:41px;background:#5a5a5a"></div>
</div>
</body></html>
